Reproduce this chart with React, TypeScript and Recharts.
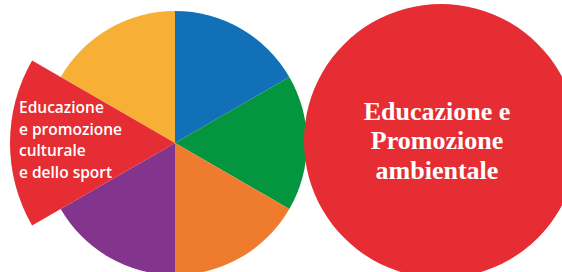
import { PieChart, Pie, Cell } from 'recharts'

const segments = ['A', 'B', 'C', 'D', 'E', 'F']
const shares = [1, 1, 1, 1, 1, 1]
const colors = ['#1170b8', '#04963f', '#ef7b2e', '#83348c', '#e52d33', '#f7b035']
const highlighted = 4

const leftLines = ['Educazione', 'e promozione', 'culturale', 'e dello sport']
const rightLines = ['Educazione e', 'Promozione', 'ambientale']
const circleValue = [{ name: 'ambientale', value: 1 }]

const pieData = segments.map((name, i) => ({ name, value: shares[i] }))

export default function App() {
  return (
    <div style={{ position: 'absolute', left: 0, top: 0, width: 562, height: 272, background: '#fff' }}>
      <PieChart width={562} height={272} margin={{ top: 0, right: 0, bottom: 0, left: 0 }}>
        <Pie
          data={pieData}
          dataKey="value"
          cx={175}
          cy={143}
          outerRadius={132}
          startAngle={90}
          endAngle={-270}
          stroke="none"
          isAnimationActive={false}
        >
          {pieData.map((d, i) => (
            <Cell key={d.name} fill={i === highlighted ? 'transparent' : colors[i]} />
          ))}
        </Pie>
        <Pie
          data={pieData}
          dataKey="value"
          cx={175}
          cy={143}
          outerRadius={165}
          startAngle={90}
          endAngle={-270}
          stroke="none"
          isAnimationActive={false}
        >
          {pieData.map((d, i) => (
            <Cell key={d.name} fill={i === highlighted ? colors[i] : 'transparent'} />
          ))}
        </Pie>
        <Pie
          data={circleValue}
          dataKey="value"
          cx={441}
          cy={141}
          outerRadius={137}
          stroke="none"
          fill="#e52d33"
          isAnimationActive={false}
        />
      </PieChart>
      {/* labels drawn over the chart */}
      <svg width={562} height={272} style={{ position: 'absolute', left: 0, top: 0, pointerEvents: 'none' }}>
        <text fill="#fff" fontFamily="'Open Sans', sans-serif" fontWeight={600} fontSize={15.5}>
          {leftLines.map((t, i) => (
            <tspan key={t} x={19} y={113 + i * 21.5}>{t}</tspan>
          ))}
        </text>
        <text fill="#fff" fontFamily="'Liberation Serif', serif" fontWeight={700} fontSize={26} textAnchor="middle">
          {rightLines.map((t, i) => (
            <tspan key={t} x={437} y={119.5 + i * 29.5}>{t}</tspan>
          ))}
        </text>
      </svg>
    </div>
  )
}
